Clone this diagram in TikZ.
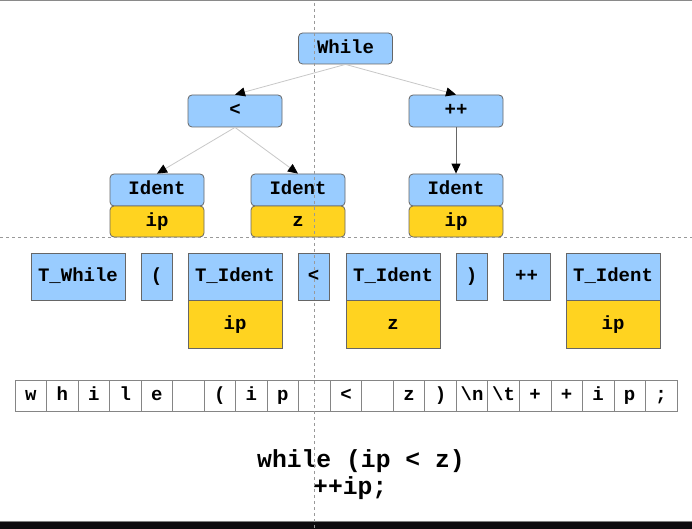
\documentclass[tikz,border=0pt]{standalone}
\usepackage{fontspec}
\newfontfamily\codefont{Liberation Mono}
\usetikzlibrary{arrows.meta}
\definecolor{nodeblue}{HTML}{99CCFF}
\definecolor{nodeyellow}{HTML}{FFD320}
\definecolor{edgegray}{HTML}{666666}
\definecolor{linkgray}{HTML}{C8C8C8}
\definecolor{guidegray}{HTML}{999999}
\definecolor{barblack}{HTML}{0E0C0F}
\tikzset{
  lbl/.style={font=\codefont\bfseries\fontsize{19}{21}\selectfont, text=black, inner sep=0pt, text height=13pt, text depth=3pt},
  treeblue/.style={lbl, draw=edgegray, fill=nodeblue, rounded corners=4pt, line width=0.8pt, minimum width=94pt, minimum height=31pt},
  treeyellow/.style={lbl, draw=edgegray, fill=nodeyellow, rounded corners=4pt, line width=0.8pt, minimum width=94pt, minimum height=31pt},
  tokblue/.style={lbl, draw=edgegray, fill=nodeblue, line width=0.8pt, minimum height=47pt},
  tokyellow/.style={lbl, draw=edgegray, fill=nodeyellow, line width=0.8pt, minimum width=94pt, minimum height=48pt},
  charcell/.style={lbl, draw=edgegray!80, fill=white, line width=0.7pt, minimum width=31.52pt, minimum height=31pt},
  link/.style={draw=linkgray, line width=0.8pt, -{Triangle[length=10pt,width=9pt,color=black]}},
  darklink/.style={draw=edgegray, line width=1pt, -{Triangle[length=10pt,width=9pt,color=black]}},
  guide/.style={draw=guidegray, line width=1pt, dash pattern=on 3pt off 3pt},
  src/.style={font=\codefont\bfseries\fontsize{24.7}{27}\selectfont, inner sep=0pt, anchor=west}
}
\begin{document}
\begin{tikzpicture}[x=1pt,y=-1pt]
\useasboundingbox (0,0) rectangle (692,529);
\fill[white] (0,0) rectangle (692,529);
% top edge and bottom bar
\draw[guidegray!90!black, line width=1.5pt] (0,0.75) -- (692,0.75);
\fill[barblack] (0,522) rectangle (692,529);
\draw[gray, line width=1pt] (0,521.5) -- (692,521.5);

% AST
\node[treeblue] (while) at (345.5,48.5) {While};
\node[treeblue, minimum height=32pt] (lt) at (235,111) {<};
\node[treeblue, minimum height=32pt] (pp) at (456,111) {++};
\node[treeblue, minimum height=32pt] (id1) at (157,190) {Ident};
\node[treeyellow] (v1) at (157,221.5) {ip};
\node[treeblue, minimum height=32pt] (id2) at (298,190) {Ident};
\node[treeyellow] (v2) at (298,221.5) {z};
\node[treeblue, minimum height=32pt] (id3) at (456,190) {Ident};
\node[treeyellow] (v3) at (456,221.5) {ip};

\draw[link] (while.south) -- (lt.north);
\draw[link] (while.south) -- (pp.north);
\draw[link] (lt.south) -- (id1.north);
\draw[link] (lt.south) -- (id2.north);
\draw[darklink] (pp.south) -- (id3.north);

% tokens
\node[tokblue, minimum width=94pt] (tw) at (78,276.5) {T\_While};
\node[tokblue, minimum width=31pt] (tlp) at (156.5,276.5) {(};
\node[tokblue, minimum width=94pt] (ti1) at (235,276.5) {T\_Ident};
\node[tokyellow] (tv1) at (235,324) {ip};
\node[tokblue, minimum width=31pt] (tlt) at (313.5,276.5) {<};
\node[tokblue, minimum width=94pt] (ti2) at (393,276.5) {T\_Ident};
\node[tokyellow] (tv2) at (393,324) {z};
\node[tokblue, minimum width=31pt] (trp) at (471.5,276.5) {)};
\node[tokblue, minimum width=47pt] (tpp) at (526.5,276.5) {++};
\node[tokblue, minimum width=94pt] (ti3) at (613,276.5) {T\_Ident};
\node[tokyellow] (tv3) at (613,324) {ip};

% characters
\foreach \ch [count=\i] in {{w},{h},{i},{l},{e},{},{(},{i},{p},{},{<},{},{z},{)},{\textbackslash n},{\textbackslash t},{+},{+},{i},{p},{;}}{
  \node[charcell] (c\i) at ({15+31.52*(\i-0.5)},395.5) {\ch};
}

% source text
\node[src] (s1) at (257,461) {while (ip < z)};
\node[src] (s2) at (313,488) {++ip;};

% guide lines
\draw[guide] (314,3) -- (314,529);
\draw[guide] (0,237.5) -- (692,237.5);
\end{tikzpicture}
\end{document}
